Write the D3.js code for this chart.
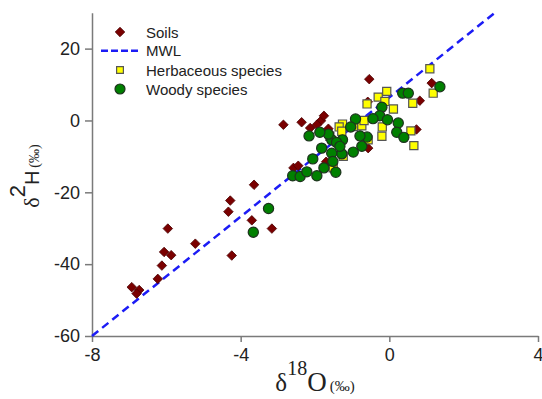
<!DOCTYPE html>
<html>
<head>
<meta charset="utf-8">
<script src="https://cdn.jsdelivr.net/npm/d3@7"></script>
<style>
  body { margin: 0; background: #fff; }
  svg { display: block; font-family: Arial, "Liberation Sans", sans-serif; }
</style>
</head>
<body>
<svg id="chart" width="542" height="399"></svg>
<script>
// values: [δ18O, δ2H]
const soils = [
  [-6.93, -46.4], [-6.73, -47.2], [-6.80, -48.2], [-6.23, -44.1], [-6.12, -40.4],
  [-6.06, -36.6], [-5.87, -37.5], [-5.96, -30.1], [-5.22, -34.3], [-4.24, -37.6],
  [-4.33, -25.4], [-4.28, -22.3], [-3.64, -17.9], [-3.70, -27.8], [-3.16, -30.1],
  [-2.85, -1.2], [-2.36, -0.5], [-2.13, -2.1], [-1.84, -0.1], [-1.76, 1.3],
  [-1.95, -1.2], [-1.64, -2.3], [-0.54, 11.5], [-0.58, 5.2], [1.14, 10.4],
  [0.82, 5.5], [0.73, -2.5], [-0.57, -7.7], [-2.58, -13.2], [-2.45, -12.6],
  [-1.70, -11.5]
];
const herbaceous = [
  [1.09, 14.4], [1.18, 7.6], [0.63, 4.8], [-0.30, 6.5], [-0.07, 8.1],
  [-0.60, 4.6], [0.11, 3.2], [-0.12, 5.3], [-0.19, -1.8], [-0.20, -4.4],
  [0.58, -2.9], [0.66, -7.0], [-1.26, -1.0], [-1.35, -1.8], [-0.74, -1.5],
  [-0.68, 0.0], [-0.97, -1.7], [-0.57, -5.4], [-1.24, -10.0], [-1.51, -13.2],
  [-1.60, -4.4], [-1.28, -3.0]
];
const woody = [
  [1.36, 9.4], [0.36, 7.6], [0.51, 7.6], [-0.20, 3.7], [-0.26, 1.3],
  [-0.44, 0.5], [-0.05, 0.2], [0.24, -0.7], [0.20, -3.3], [0.39, -4.7],
  [-0.91, 0.4], [-1.04, -1.8], [-0.60, -4.6], [-0.79, -4.3], [-0.74, -7.2],
  [-0.97, -8.8], [-1.26, -5.4], [-1.28, -9.3], [-1.55, -9.1], [-1.52, -11.4],
  [-1.44, -14.4], [-1.76, -13.2], [-1.95, -15.4], [-2.06, -10.7], [-1.82, -7.7],
  [-1.55, -5.4], [-1.64, -3.8], [-1.87, -3.3], [-2.16, -4.3], [-1.42, -6.1],
  [-1.33, -7.2], [-2.60, -15.4], [-2.40, -15.6], [-2.22, -14.3],
  [-3.25, -24.5], [-3.66, -31.1]
];
// meteoric water line end points
const mwl = [[-8, -60], [2.84, 30]];
const xTicks = [-8, -4, 0, 4];
const yTicks = [-60, -40, -20, 0, 20];
const legendItems = ['Soils', 'MWL', 'Herbaceous species', 'Woody species'];

const svg = d3.select('#chart');
const x = d3.scaleLinear().domain([-8, 4]).range([92, 538]);
const y = d3.scaleLinear().domain([-60, 30]).range([336, 12.7]);

const axisColor = '#7a7a7a';
const textColor = '#222';
const plain = d => String(d); // hyphen minus like the original

// axes
const gx = svg.append('g')
  .attr('transform', `translate(0,${y(-60)})`)
  .call(d3.axisBottom(x).tickValues(xTicks).tickFormat(plain).tickSize(6).tickSizeOuter(0).tickPadding(6));
const gy = svg.append('g')
  .attr('transform', `translate(${x(-8)},0)`)
  .call(d3.axisLeft(y).tickValues(yTicks).tickFormat(plain).tickSize(7).tickSizeOuter(0).tickPadding(5));

[gx, gy].forEach(g => {
  g.select('.domain').attr('stroke', axisColor).attr('stroke-width', 1.5);
  g.selectAll('.tick line').attr('stroke', axisColor).attr('stroke-width', 1.5);
  g.selectAll('.tick text')
    .attr('fill', textColor)
    .attr('font-size', 18)
    .attr('font-family', 'Arial, "Liberation Sans", sans-serif');
});

// MWL
const line = d3.line().x(d => x(d[0])).y(d => y(d[1]));
svg.append('path')
  .datum(mwl)
  .attr('d', line)
  .attr('fill', 'none')
  .attr('stroke', '#1c1cf5')
  .attr('stroke-width', 2.5)
  .attr('stroke-dasharray', '8,5');

const diamond = d3.symbol().type(d3.symbolDiamond2).size(58);
const square = d3.symbol().type(d3.symbolSquare).size(66);

// soils
svg.append('g').selectAll('path')
  .data(soils)
  .enter()
  .append('path')
  .attr('d', diamond)
  .attr('transform', d => `translate(${x(d[0])},${y(d[1])})`)
  .attr('fill', '#7a0000')
  .attr('stroke', '#4a0000')
  .attr('stroke-width', 0.8);

// herbaceous
svg.append('g').selectAll('path')
  .data(herbaceous)
  .enter()
  .append('path')
  .attr('d', square)
  .attr('transform', d => `translate(${x(d[0])},${y(d[1])})`)
  .attr('fill', '#ffff00')
  .attr('stroke', '#555')
  .attr('stroke-width', 1.2);

// woody
svg.append('g').selectAll('circle')
  .data(woody)
  .enter()
  .append('circle')
  .attr('cx', d => x(d[0]))
  .attr('cy', d => y(d[1]))
  .attr('r', 5.1)
  .attr('fill', '#008000')
  .attr('stroke', '#1d331d')
  .attr('stroke-width', 1.2);

// legend
const legend = svg.append('g');
const rowsY = [32, 50.7, 70, 89];
legendItems.forEach((name, i) => {
  const row = legend.append('g').attr('transform', `translate(120,${rowsY[i]})`);
  if (i === 0) {
    row.append('path').attr('d', diamond).attr('fill', '#7a0000').attr('stroke', '#4a0000').attr('stroke-width', 0.8);
  } else if (i === 1) {
    row.append('line').attr('x1', -19).attr('x2', 18)
      .attr('stroke', '#1c1cf5').attr('stroke-width', 2.5).attr('stroke-dasharray', '7,3');
  } else if (i === 2) {
    row.append('path').attr('d', d3.symbol().type(d3.symbolSquare).size(46))
      .attr('fill', '#ffff00').attr('stroke', '#555').attr('stroke-width', 1.2);
  } else {
    row.append('circle').attr('r', 5).attr('fill', '#008000').attr('stroke', '#1d331d').attr('stroke-width', 1.2);
  }
  row.append('text')
    .attr('x', 26)
    .attr('y', 5.5)
    .attr('font-size', 15)
    .attr('fill', textColor)
    .text(name);
});

// x label: δ18O (‰)
const xl = svg.append('text')
  .attr('x', 315)
  .attr('y', 391)
  .attr('text-anchor', 'middle')
  .attr('fill', textColor)
  .attr('font-family', '"Liberation Serif", "Times New Roman", serif');
xl.append('tspan').attr('font-size', 25).text('δ');
xl.append('tspan').attr('font-size', 20).attr('dy', -16).text('18');
xl.append('tspan').attr('font-size', 27).attr('dy', 16).text('O');
xl.append('tspan').attr('font-size', 15).attr('dx', 3).text('(‰)');

// y label: δ2H (‰)
const yl = svg.append('text')
  .attr('transform', 'translate(39,176) rotate(-90)')
  .attr('text-anchor', 'middle')
  .attr('fill', textColor);
yl.append('tspan').attr('font-size', 22).attr('font-family', '"Liberation Serif", serif').text('δ');
yl.append('tspan').attr('font-size', 22).attr('dy', -14).text('2');
yl.append('tspan').attr('font-size', 20).attr('dy', 14).text('H');
yl.append('tspan').attr('font-size', 14).attr('dx', 3).attr('font-family', '"Liberation Serif", serif').text('(‰)');
</script>
</body>
</html>
